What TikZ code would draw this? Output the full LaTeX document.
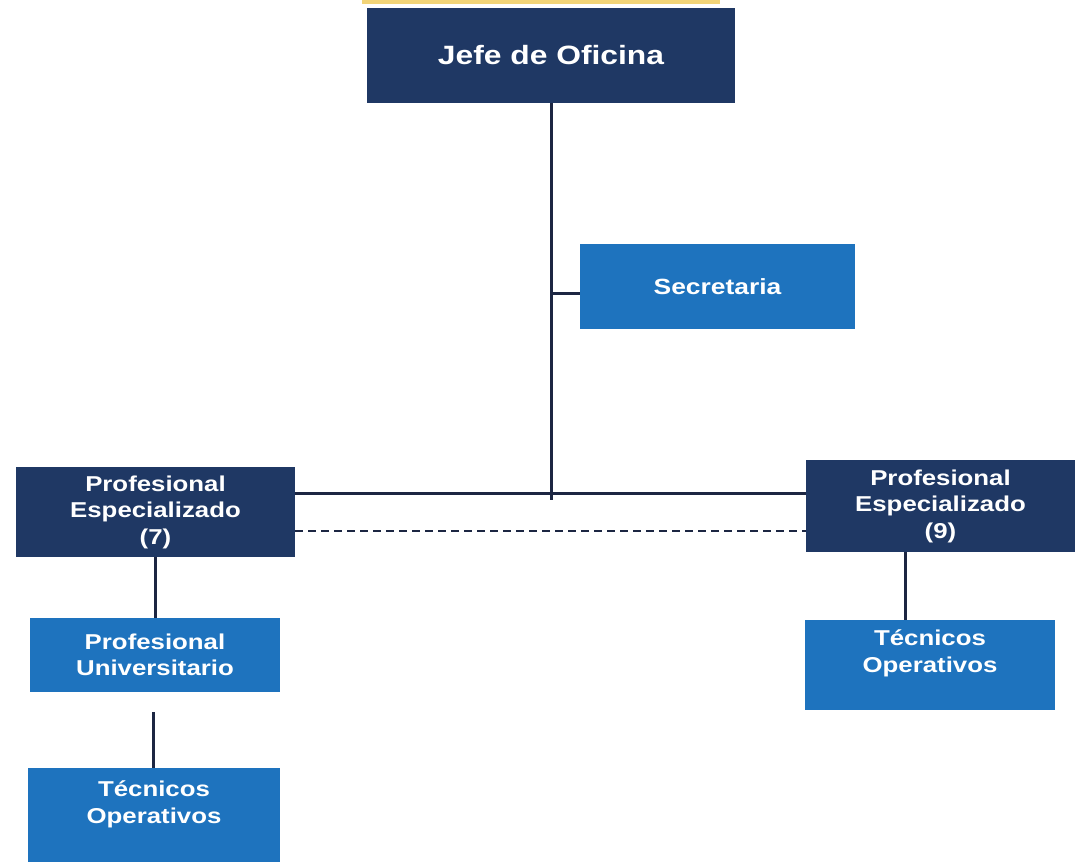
\documentclass[tikz,border=0pt]{standalone}
\usepackage{fontspec}
\newfontfamily\orgfont[FakeStretch=1.2]{Liberation Sans}
\usetikzlibrary{positioning}
\definecolor{navy}{RGB}{31,56,100}
\definecolor{azul}{RGB}{30,115,190}
\definecolor{linea}{RGB}{28,38,66}
\definecolor{franja}{RGB}{242,212,120}
\tikzset{
  darkbox/.style={fill=navy, text=white, align=center, inner sep=0pt,
    font=\orgfont\bfseries\fontsize{21.5}{26.5}\selectfont},
  lightbox/.style={darkbox, fill=azul},
  link/.style={draw=linea, line width=3pt},
}

\begin{document}
\begin{tikzpicture}[x=1pt,y=-1pt]
	  \useasboundingbox (0,0) rectangle (1079,862);
	  \fill[franja] (362,0) rectangle (720,3.5);
	  % boxes
	  \node[darkbox, minimum width=368pt, minimum height=95pt,
	    font=\orgfont\bfseries\fontsize{26.5}{30}\selectfont] (jefe) at (551,55.5) {Jefe de Oficina};
	  \node[lightbox, minimum width=275pt, minimum height=85pt,
	    font=\orgfont\bfseries\fontsize{22}{27}\selectfont] (sec) at (717.5,286.5) {Secretaria};
	  \node[darkbox, minimum width=279pt, minimum height=90pt] (pe7) at (155.5,512) {Profesional\\Especializado\\(7)};
	  \node[darkbox, minimum width=269pt, minimum height=92pt] (pe9) at (940.5,506) {Profesional\\Especializado\\(9)};
	  \node[lightbox, minimum width=250pt, minimum height=74pt] (pu) at (155,655) {Profesional\\Universitario};
	  \node[lightbox, anchor=north, minimum width=250pt, text height=52pt, text depth=38pt] (toR) at (930,620) {Técnicos\\Operativos};
	  \node[lightbox, anchor=north, minimum width=252pt, text height=55pt, text depth=44pt] (toL) at (154,768) {Técnicos\\Operativos};
	  % connectors
	  \coordinate (hub) at (551,500);
	  \coordinate (secjoin) at (551,293);
	  \coordinate (gapL) at (153,712);
	  \coordinate (dropR) at (905,552);
	  \draw[link] (jefe.south) -- (hub);
	  \draw[link] (secjoin) -- (secjoin -| sec.west);
	  \draw[link] ([yshift=19pt]pe7.east) -- ([yshift=13pt]pe9.west);
	  \draw[link, line width=2.2pt, dash pattern=on 8pt off 5pt] ([yshift=-19pt]pe7.east) -- ([yshift=-25pt]pe9.west);
	  \draw[link] (pe7.south) -- (pe7.south |- pu.north);
	  \draw[link] (gapL) -- (gapL |- toL.north);
	  \draw[link] (dropR) -- (dropR |- toR.north);
	\end{tikzpicture}
\end{document}
